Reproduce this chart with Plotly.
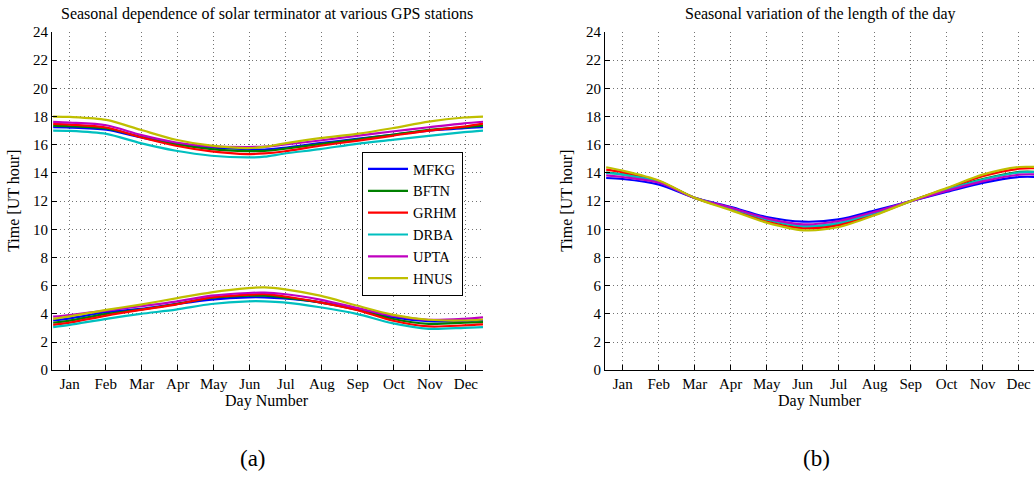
import plotly.graph_objects as go

# ---------------- data ----------------
stations = ["MFKG", "BFTN", "GRHM", "DRBA", "UPTA", "HNUS"]
colors = ["#0000ff", "#008000", "#ff0000", "#00bfbf", "#bf00bf", "#bfbf00"]

month_labels = ["Jan", "Feb", "Mar", "Apr", "May", "Jun",
                "Jul", "Aug", "Sep", "Oct", "Nov", "Dec"]
month_ticks = [15, 45.5, 76, 106.5, 137, 167.5, 198, 228.5, 259, 289.5, 320, 350.5]

# panel (a): terminator times (UT hour)
days_a = [1, 15, 46, 75, 105, 135, 166, 180, 196, 227, 258, 288, 319, 349, 365]

sunset_MFKG = [17.24, 17.22, 17.06, 16.53, 16.06, 15.81, 15.69, 15.66, 15.78, 16.11, 16.42, 16.70, 17.00, 17.17, 17.24]
sunset_BFTN = [17.35, 17.31, 17.15, 16.58, 16.04, 15.69, 15.55, 15.56, 15.70, 16.04, 16.37, 16.70, 17.06, 17.24, 17.36]
sunset_GRHM = [17.48, 17.43, 17.22, 16.53, 15.93, 15.53, 15.34, 15.38, 15.52, 15.93, 16.28, 16.63, 17.00, 17.29, 17.50]
sunset_DRBA = [17.00, 16.98, 16.77, 16.11, 15.57, 15.22, 15.10, 15.15, 15.36, 15.69, 16.06, 16.35, 16.63, 16.89, 17.00]
sunset_UPTA = [17.62, 17.57, 17.38, 16.70, 16.16, 15.88, 15.84, 15.86, 16.00, 16.30, 16.63, 16.94, 17.24, 17.52, 17.63]
sunset_HNUS = [18.00, 17.97, 17.76, 17.06, 16.35, 15.93, 15.76, 15.85, 16.08, 16.47, 16.77, 17.17, 17.64, 17.93, 18.00]

sunrise_MFKG = [3.53, 3.68, 4.12, 4.35, 4.70, 5.01, 5.17, 5.17, 5.10, 4.82, 4.35, 3.76, 3.48, 3.48, 3.55]
sunrise_BFTN = [3.37, 3.52, 4.00, 4.30, 4.70, 5.13, 5.29, 5.29, 5.17, 4.82, 4.30, 3.65, 3.29, 3.37, 3.41]
sunrise_GRHM = [3.22, 3.38, 3.88, 4.28, 4.66, 5.17, 5.36, 5.40, 5.25, 4.82, 4.28, 3.53, 3.11, 3.18, 3.25]
sunrise_DRBA = [3.06, 3.22, 3.65, 4.00, 4.30, 4.70, 4.89, 4.89, 4.82, 4.47, 4.00, 3.34, 2.94, 3.01, 3.06]
sunrise_UPTA = [3.80, 3.92, 4.23, 4.54, 4.87, 5.29, 5.48, 5.50, 5.41, 5.01, 4.42, 3.88, 3.58, 3.65, 3.75]
sunrise_HNUS = [3.65, 3.82, 4.28, 4.66, 5.10, 5.53, 5.83, 5.88, 5.76, 5.29, 4.59, 3.95, 3.58, 3.53, 3.60]

# panel (b): length of the day (hours)
days_b = [1, 15, 46, 76, 107, 137, 168, 198, 229, 259, 290, 320, 351, 365]

daylen_MFKG = [13.64, 13.57, 13.17, 12.23, 11.57, 10.87, 10.54, 10.70, 11.34, 12.0, 12.66, 13.29, 13.71, 13.72]
daylen_BFTN = [14.03, 13.90, 13.36, 12.23, 11.48, 10.68, 10.20, 10.42, 11.15, 12.0, 12.84, 13.56, 14.07, 14.08]
daylen_GRHM = [14.23, 14.04, 13.40, 12.23, 11.41, 10.54, 10.07, 10.30, 11.06, 12.0, 12.90, 13.76, 14.30, 14.33]
daylen_DRBA = [14.00, 13.88, 13.34, 12.23, 11.50, 10.70, 10.23, 10.45, 11.17, 12.0, 12.82, 13.53, 14.04, 14.05]
daylen_UPTA = [13.83, 13.71, 13.30, 12.23, 11.53, 10.78, 10.35, 10.59, 11.25, 12.0, 12.74, 13.40, 13.88, 13.90]
daylen_HNUS = [14.40, 14.16, 13.45, 12.23, 11.34, 10.47, 9.93, 10.16, 11.01, 12.0, 12.94, 13.88, 14.42, 14.42]

y_ticks = list(range(0, 25, 2))

sunsets = [sunset_MFKG, sunset_BFTN, sunset_GRHM, sunset_DRBA, sunset_UPTA, sunset_HNUS]
sunrises = [sunrise_MFKG, sunrise_BFTN, sunrise_GRHM, sunrise_DRBA, sunrise_UPTA, sunrise_HNUS]
daylens = [daylen_MFKG, daylen_BFTN, daylen_GRHM, daylen_DRBA, daylen_UPTA, daylen_HNUS]

# ---------------- figure ----------------
W, H = 1034, 481
FONT = "Liberation Serif"

fig = go.Figure()

for name, col, ss, sr, dl in zip(stations, colors, sunsets, sunrises, daylens):
    line = dict(color=col, width=2.2, shape="spline", smoothing=0.8)
    fig.add_trace(go.Scatter(x=days_a, y=ss, mode="lines", name=name, line=line,
                             xaxis="x", yaxis="y", showlegend=True, legendgroup=name))
    fig.add_trace(go.Scatter(x=days_a, y=sr, mode="lines", name=name, line=line,
                             xaxis="x", yaxis="y", showlegend=False, legendgroup=name))
    fig.add_trace(go.Scatter(x=days_b, y=dl, mode="lines", name=name, line=line,
                             xaxis="x2", yaxis="y2", showlegend=False, legendgroup=name))

def px_x(p):
    return p / W

def px_y(p):
    return 1 - p / H

grid_style = dict(showgrid=True, gridcolor="rgba(0,0,0,0.55)", gridwidth=1, griddash="1px,3px")
axis_common = dict(showline=True, linecolor="black", linewidth=1, mirror=False,
                   ticks="inside", ticklen=5, tickcolor="black", zeroline=False,
                   tickfont=dict(family=FONT, size=15, color="black"))

ydom = [px_y(374.7), px_y(24.8)]

fig.update_layout(
    width=W, height=H,
    margin=dict(l=0, r=0, t=0, b=0),
    paper_bgcolor="white", plot_bgcolor="white",
    font=dict(family=FONT, color="black"),
    xaxis=dict(domain=[px_x(52), px_x(483)], range=[0, 365], tickmode="array",
               tickvals=month_ticks, ticktext=month_labels, anchor="y",
               **grid_style, **axis_common),
    yaxis=dict(domain=ydom, range=[0, 24], tickmode="array", tickvals=y_ticks,
               anchor="x", **grid_style, **axis_common),
    xaxis2=dict(domain=[px_x(605), 1.0], range=[0, 363.5], tickmode="array",
                tickvals=month_ticks, ticktext=month_labels, anchor="y2",
                **grid_style, **axis_common),
    yaxis2=dict(domain=ydom, range=[0, 24], tickmode="array", tickvals=y_ticks,
                anchor="x2", **grid_style, **axis_common),
    legend=dict(x=px_x(362), y=px_y(149), xanchor="left", yanchor="top",
                bgcolor="white", bordercolor="black", borderwidth=1,
                font=dict(family=FONT, size=14.5, color="black"),
                tracegroupgap=0, itemwidth=40),
    showlegend=True,
)

ann = [
    dict(text="Seasonal dependence of solar terminator at various GPS stations",
         x=px_x(267), y=px_y(6.5), size=16, angle=0),
    dict(text="Seasonal variation of the length of the day",
         x=px_x(820), y=px_y(6.5), size=16, angle=0),
    dict(text="Day Number", x=px_x(267), y=px_y(407), size=16, angle=0),
    dict(text="Day Number", x=px_x(820), y=px_y(407), size=16, angle=0),
    dict(text="Time [UT hour]", x=px_x(14), y=px_y(199.5), size=16, angle=-90),
    dict(text="Time [UT hour]", x=px_x(567), y=px_y(199.5), size=16, angle=-90),
    dict(text="(a)", x=px_x(253), y=px_y(466), size=23, angle=0),
    dict(text="(b)", x=px_x(816), y=px_y(466), size=23, angle=0),
]
for a in ann:
    fig.add_annotation(text=a["text"], x=a["x"], y=a["y"], xref="paper", yref="paper",
                       xanchor="center", yanchor="middle", showarrow=False,
                       textangle=a["angle"],
                       font=dict(family=FONT, size=a["size"], color="black"))

fig.write_html("out.html")
